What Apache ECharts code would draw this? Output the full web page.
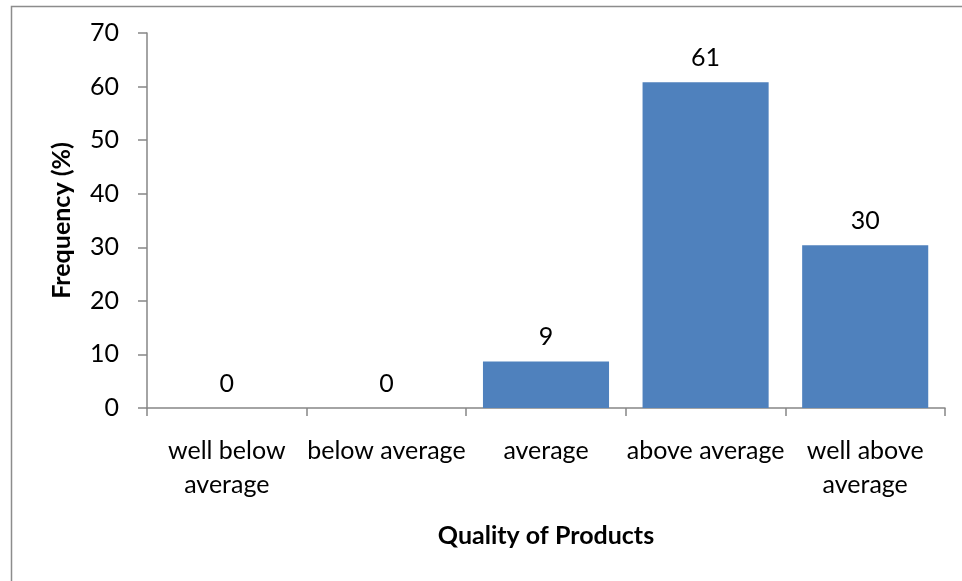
<!DOCTYPE html>
<html><head><meta charset="utf-8">
<script src="https://cdn.jsdelivr.net/npm/echarts@6/dist/echarts.min.js"></script>
<style>html,body{margin:0;padding:0;background:#fff}#c{width:962px;height:581px}</style>
</head><body><div id="c"></div>
<script>
var categories = ['well below\naverage', 'below average', 'average', 'above average', 'well above\naverage'];
var values = [0, 0, 8.7, 60.8, 30.4];
var yTicks = [0, 10, 20, 30, 40, 50, 60, 70];

var font = 'Lato, "Open Sans", sans-serif';
var chart = echarts.init(document.getElementById('c'));
chart.setOption({
  animation: false,
  graphic: [{
    type: 'rect', left: 9, top: 4, shape: {width: 1000, height: 620},
    style: {fill: 'none', stroke: '#8c8c8c', lineWidth: 1.5}, silent: true
  }],
  grid: {left: 147, right: 17, top: 33, bottom: 173, containLabel: false},
  xAxis: {
    type: 'category', data: categories,
    name: 'Quality of Products', nameLocation: 'middle', nameGap: 115,
    nameTextStyle: {fontFamily: font, fontWeight: 'bold', fontSize: 25, color: '#000'},
    axisLine: {lineStyle: {color: '#868686', width: 1.5}},
    axisTick: {show: true, alignWithLabel: false, length: 8, lineStyle: {color: '#868686', width: 1.5}},
    axisLabel: {fontFamily: font, fontSize: 25, color: '#000', margin: 26, lineHeight: 34, interval: 0}
  },
  yAxis: {
    type: 'value', min: yTicks[0], max: yTicks[yTicks.length - 1], interval: 10,
    name: 'Frequency (%)', nameLocation: 'middle', nameGap: 73, nameRotate: 90,
    nameTextStyle: {fontFamily: font, fontWeight: 'bold', fontSize: 25, color: '#000'},
    splitLine: {show: false},
    axisLine: {show: true, lineStyle: {color: '#868686', width: 1.5}},
    axisTick: {show: true, length: 9, lineStyle: {color: '#868686', width: 1.5}},
    axisLabel: {fontFamily: font, fontSize: 25, color: '#000', margin: 28}
  },
  series: [{
    type: 'bar', data: values, barCategoryGap: '21%',
    itemStyle: {color: '#4F81BD'},
    label: {show: true, position: 'top', distance: 12, fontFamily: font, fontSize: 25, color: '#000',
      formatter: function (p) { return Math.round(p.value); }}
  }]
});
</script></body></html>
